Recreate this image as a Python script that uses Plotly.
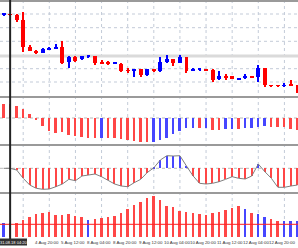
import plotly.graph_objects as go

# ---- data (price units are arbitrary) ----
opens  = [84.7, 86.0, 85.3, 80.0, 52.7, 49.3, 47.3, 50.7, 51.7, 52.7, 37.7, 43.3, 41.3, 43.3, 44.0, 37.3,
          37.0, 36.3, 36.0, 29.5, 29.0, 31.0, 24.7, 30.5, 29.3, 38.0, 40.7, 37.3, 42.7, 29.7, 30.3, 30.7,
          30.5, 21.0, 24.0, 24.0, 20.7, 22.3, 23.3, 22.7, 31.7, 15.0, 15.0, 14.0, 15.0, 15.0]
highs  = [87.3, 86.5, 86.0, 87.7, 55.0, 50.0, 51.7, 53.0, 56.0, 59.3, 44.0, 44.0, 44.5, 44.5, 44.5, 40.0,
          39.0, 37.5, 37.3, 31.7, 31.5, 31.5, 31.5, 31.0, 43.3, 45.0, 41.0, 45.0, 43.0, 32.0, 32.0, 31.5,
          31.0, 29.0, 26.0, 24.5, 22.5, 26.0, 24.0, 35.0, 32.0, 15.5, 15.5, 16.7, 20.0, 15.5]
lows   = [84.0, 84.5, 78.0, 48.3, 49.0, 46.5, 46.7, 50.0, 51.0, 36.5, 32.3, 38.5, 40.5, 42.5, 34.7, 36.0,
          34.7, 36.0, 28.5, 26.7, 23.3, 23.3, 24.0, 28.5, 28.5, 37.5, 34.0, 37.0, 27.3, 29.0, 29.5, 29.0,
          18.0, 20.5, 20.0, 21.0, 20.2, 20.7, 22.0, 18.3, 13.3, 13.5, 13.5, 13.3, 14.0, 7.5]
closes = [86.7, 85.0, 80.0, 52.7, 49.3, 47.3, 50.7, 52.3, 52.3, 37.3, 43.3, 39.3, 44.0, 44.0, 36.7, 36.7,
          36.3, 37.0, 29.3, 29.0, 31.0, 24.7, 31.0, 29.0, 38.0, 40.7, 37.3, 42.7, 29.3, 30.7, 31.3, 29.7,
          20.0, 24.0, 21.7, 21.3, 21.7, 24.0, 22.3, 31.7, 15.0, 14.0, 14.0, 15.0, 14.3, 8.3]

osc1 = [13.7, 14.5, 12.0, 9.0, 4.0, -2.3, -8.0, -12.7, -15.3, -14.3, -17.0, -18.0, -18.7, -20.3, -20.3,
        -19.7, -19.7, -20.3, -21.3, -22.0, -23.0, -23.7, -24.3, -24.3, -22.0, -19.7, -16.3, -12.7, -10.3,
        -10.3, -10.3, -10.3, -12.0, -12.0, -11.3, -11.3, -11.3, -10.3, -10.3, -9.3, -8.0, -8.7, -9.3, -9.3,
        -11.0, -12.0]
osc1_col = list("rrrrrrrrrrrrrrrbrrrrrrrbbbbbbbrbrrbbrbbbbrrrrr")

osc2 = [0.0, 0.0, -1.7, -10.0, -16.7, -20.0, -21.0, -20.7, -18.4, -15.7, -11.0, -12.4, -7.7, -6.7, -5.7,
        -8.4, -11.7, -15.7, -17.7, -18.4, -14.4, -11.0, -4.2, 0.5, 8.3, 12.6, 12.3, 12.6, 2.3, -7.5, -15.0,
        -15.7, -15.0, -13.4, -11.0, -8.4, -10.0, -10.7, -7.7, 4.3, -3.4, -10.0, -19.0, -19.0, -17.7, -16.7]

vol = [14.3, 14.0, 13.7, 17.0, 19.7, 22.7, 24.3, 25.0, 22.0, 22.0, 23.0, 21.0, 19.7, 17.0, 17.7, 18.7,
       19.7, 21.3, 23.7, 27.7, 32.0, 35.3, 38.7, 41.0, 37.0, 31.3, 30.3, 26.0, 24.7, 23.7, 23.0, 22.0,
       24.3, 25.3, 27.0, 28.7, 31.0, 27.7, 24.3, 23.0, 19.7, 17.7, 16.3, 16.3, 16.3, 16.0]
vol_col = list("brrrrrrrrrrrrbrrrrrrrrrrrrrrrrrrrrrrrbrbbrrbbb")
vol_level = 12.7

tick_idx = [7, 11, 15, 19, 23, 27, 31, 35, 39, 43]
tick_text = ["4 Aug 20:00", "5 Aug 12:00", "8 Aug 04:00", "8 Aug 20:00", "9 Aug 12:00",
             "10 Aug 04:00", "10 Aug 20:00", "11 Aug 12:00", "12 Aug 04:00", "12 Aug 20:00"]
grid_idx = [3, 7, 11, 15, 19, 23, 27, 31, 35, 39, 43]
price_grid = [86.0, 72.3, 58.7, 31.3, 18.0]
price_band = 44.0
vline_idx = 1
vline_label = "31.08.18 04:20"

# ---- layout helpers ----
W, H, B = 298, 248, 11
PH = H - B
def py(y):
    return 1 - y / PH

RED, BLUE = "#FF0000", "#0000FF"
PRED, PBLUE = "rgb(255,70,70)", "rgb(70,70,255)"
n = len(opens)
x = list(range(n))

fig = go.Figure()

# candles: wicks then bodies
ccol = [BLUE if c >= o else RED for o, c in zip(opens, closes)]
fig.add_trace(go.Bar(x=x, y=[h - l for h, l in zip(highs, lows)], base=lows, width=0.16,
                     marker=dict(color=ccol, line_width=0), yaxis="y", hoverinfo="skip"))
body_base = [min(o, c) for o, c in zip(opens, closes)]
body_h = [max(abs(c - o), 0.9) for o, c in zip(opens, closes)]
fig.add_trace(go.Bar(x=x, y=body_h, base=body_base, width=0.6,
                     marker=dict(color=ccol, line_width=0), yaxis="y", hoverinfo="skip"))

# oscillator 1
fig.add_trace(go.Bar(x=x, y=osc1, width=0.3,
                     marker=dict(color=[PRED if c == "r" else PBLUE for c in osc1_col], line_width=0),
                     yaxis="y2", hoverinfo="skip"))
# oscillator 2
fig.add_trace(go.Bar(x=x, y=osc2, width=0.2,
                     marker=dict(color=[PBLUE if v > 0 else PRED for v in osc2], line_width=0),
                     yaxis="y3", hoverinfo="skip"))
fig.add_trace(go.Scatter(x=x, y=osc2, mode="lines", line=dict(color="#7f7f7f", width=1),
                         yaxis="y3", hoverinfo="skip"))
# volume-like histogram
fig.add_trace(go.Bar(x=x, y=vol, width=0.3,
                     marker=dict(color=[PRED if c == "r" else PBLUE for c in vol_col], line_width=0),
                     yaxis="y4", hoverinfo="skip"))

shapes = []
GRID = "#C3CBD8"
for g in grid_idx:
    shapes.append(dict(type="line", xref="x", yref="paper", x0=g, x1=g, y0=0, y1=1,
                       line=dict(color=GRID, width=1, dash="dot"), layer="below"))
for v in price_grid:
    shapes.append(dict(type="line", xref="paper", yref="y", x0=0, x1=1, y0=v, y1=v,
                       line=dict(color=GRID, width=1, dash="dot"), layer="below"))
shapes.append(dict(type="line", xref="paper", yref="y", x0=0, x1=1, y0=price_band, y1=price_band,
                   line=dict(color="#DADADA", width=3), layer="below"))
shapes.append(dict(type="line", xref="paper", yref="y2", x0=0, x1=1, y0=0, y1=0,
                   line=dict(color="#BBBBBB", width=1, dash="dot"), layer="below"))
shapes.append(dict(type="line", xref="paper", yref="y3", x0=0, x1=1, y0=0, y1=0,
                   line=dict(color="#BBBBBB", width=1, dash="dot"), layer="below"))
shapes.append(dict(type="line", xref="paper", yref="y4", x0=0, x1=1, y0=vol_level, y1=vol_level,
                   line=dict(color="#FF2020", width=1), layer="above"))
# panel separators
for yy in [1, 97, 145, 193]:
    shapes.append(dict(type="line", xref="paper", yref="paper", x0=0, x1=1, y0=py(yy), y1=py(yy),
                       line=dict(color="#9A9A9A", width=2), layer="above"))
# vertical marker line
shapes.append(dict(type="line", xref="x", yref="paper", x0=vline_idx, x1=vline_idx, y0=py(240), y1=1,
                   line=dict(color="#222222", width=2), layer="above"))
# label box
shapes.append(dict(type="rect", xref="paper", yref="paper", x0=0, x1=27 / W, y0=py(245.5), y1=py(238.5),
                   fillcolor="#303030", line_width=0, layer="above"))

annotations = []
for i, t in zip(tick_idx, tick_text):
    annotations.append(dict(x=i - 0.4, xref="x", y=py(242.3), yref="paper", text=t, showarrow=False,
                            xanchor="center", yanchor="middle",
                            font=dict(family="Liberation Sans", size=4.4, color="#333333")))
annotations.append(dict(x=13.5 / W, xref="paper", y=py(242.0), yref="paper", text=vline_label,
                        showarrow=False, xanchor="center", yanchor="middle",
                        font=dict(family="Liberation Sans", size=4.0, color="#FFFFFF")))

ax_common = dict(showgrid=False, zeroline=False, showticklabels=False, showline=False, ticks="")
fig.update_layout(
    width=W, height=H, margin=dict(l=0, r=0, t=0, b=B),
    paper_bgcolor="white", plot_bgcolor="white", showlegend=False, barmode="overlay",
    xaxis=dict(range=[-0.551, 45.08], anchor="y4", **ax_common),
    yaxis=dict(domain=[py(96), py(2)], range=[4, 98], anchor="x", **ax_common),
    yaxis2=dict(domain=[py(144), py(98)], range=[-26, 20], anchor="x", **ax_common),
    yaxis3=dict(domain=[py(192), py(146)], range=[-23.7, 22.3], anchor="x", **ax_common),
    yaxis4=dict(domain=[0, py(194)], range=[0, 43], anchor="x", **ax_common),
    shapes=shapes, annotations=annotations, bargap=0,
)

fig.write_html("out.html")
